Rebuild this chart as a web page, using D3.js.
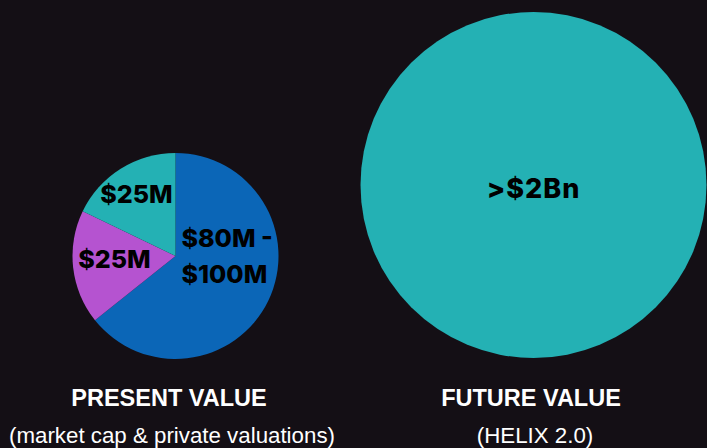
<!DOCTYPE html>
<html>
<head>
<meta charset="utf-8">
<script src="https://cdn.jsdelivr.net/npm/d3@7"></script>
<style>
  html, body { margin: 0; padding: 0; background: #140f15; }
  svg { display: block; }
</style>
</head>
<body>
<div id="chart"></div>
<script>
// present value split (midpoint used for the $80M - $100M range)
const sliceNames = ["Core", "Segment B", "Segment C"];
const sliceValues = [90, 25, 25];
const sliceLabels = [["$80M -", "$100M"], ["$25M"], ["$25M"]];
const sliceColors = ["#0b66b7", "#b553d0", "#24b1b4"];

const futureLabel = ">$2Bn";
const futureColor = "#24b1b4";

const captions = [
    {title: "PRESENT VALUE", sub: "(market cap & private valuations)"},
    {title: "FUTURE VALUE", sub: "(HELIX 2.0)"}
];

const width = 707, height = 448;

const svg = d3.select("#chart").append("svg")
    .attr("width", width)
    .attr("height", height);

svg.append("rect")
    .attr("width", width)
    .attr("height", height)
    .attr("fill", "#140f15");

// ---- pie (present value)
const pieCenter = {x: 175.5, y: 256};
const pieRadius = 103;

const pie = d3.pie().sort(null).value(d => d);
const arc = d3.arc().innerRadius(0).outerRadius(pieRadius);

const pieG = svg.append("g")
    .attr("transform", `translate(${pieCenter.x}, ${pieCenter.y})`);

const arcs = pie(sliceValues);

pieG.selectAll(".slice")
    .data(arcs)
    .join("path")
    .attr("class", "slice")
    .attr("d", arc)
    .attr("fill", (d, i) => sliceColors[i]);

// label placement (offsets from pie center)
const labelPos = [
    {x: 6, y: -9, anchor: "start"},
    {x: -61, y: 12, anchor: "middle"},
    {x: -39, y: -53, anchor: "middle"}
];
const lineHeight = 36;

arcs.forEach((a, i) => {
    const t = pieG.append("text")
        .attr("x", labelPos[i].x)
        .attr("y", labelPos[i].y)
        .attr("text-anchor", labelPos[i].anchor)
        .attr("fill", "#000")
        .style("font-family", "Inter, Roboto, sans-serif")
        .style("font-weight", 800)
        .style("font-size", "25px");
    sliceLabels[i].forEach((line, j) => {
        t.append("tspan")
            .attr("x", labelPos[i].x)
            .attr("dy", j === 0 ? 0 : lineHeight)
            .text(line);
    });
});

// ---- big circle (future value)
const circleCenter = {x: 533.5, y: 185};
const circleRadius = 173;

svg.append("circle")
    .attr("cx", circleCenter.x)
    .attr("cy", circleCenter.y)
    .attr("r", circleRadius)
    .attr("fill", futureColor);

svg.append("text")
    .attr("x", circleCenter.x)
    .attr("y", circleCenter.y + 13)
    .attr("text-anchor", "middle")
    .attr("fill", "#000")
    .style("font-family", "Inter, Roboto, sans-serif")
    .style("font-weight", 800)
    .style("font-size", "27px")
    .style("letter-spacing", "1px")
    .text(futureLabel);

// ---- captions
const captionX = [169, 531];
const subX = [172, 535];

captions.forEach((c, i) => {
    svg.append("text")
        .attr("x", captionX[i])
        .attr("y", 406)
        .attr("text-anchor", "middle")
        .attr("fill", "#fff")
        .style("font-family", "'Liberation Sans', Arial, sans-serif")
        .style("font-weight", 700)
        .style("font-size", "23.5px")
        .text(c.title);

    svg.append("text")
        .attr("x", subX[i])
        .attr("y", 443)
        .attr("text-anchor", "middle")
        .attr("fill", "#fff")
        .style("font-family", "'Liberation Sans', Arial, sans-serif")
        .style("font-size", "22.3px")
        .text(c.sub);
});
</script>
</body>
</html>
